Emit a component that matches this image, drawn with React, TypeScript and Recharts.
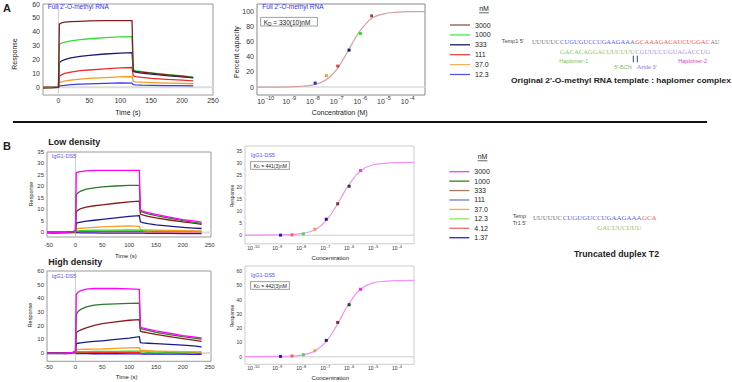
import {
  Cell,
  ComposedChart,
  Line,
  LineChart,
  ReferenceArea,
  ReferenceLine,
  Scatter,
  XAxis,
  YAxis,
} from "recharts";

const SANS = "'Liberation Sans', Arial, sans-serif";
const SERIF = "'Liberation Serif', 'Times New Roman', serif";

// ---------- panel A : sensorgram ----------
const timeA = [-25, -10, 0, 1.5, 5, 10, 20, 35, 50, 75, 100, 119, 121, 125, 135, 150, 175, 200, 218];
const respA3000 = [-0.6, -0.4, 0, 45.5, 46.5, 47, 47.3, 47.5, 47.8, 48, 48, 48.1, 12, 11.5, 11, 10.2, 9, 8, 7];
const respA1000 = [0, 0, 0, 31, 31.8, 32.5, 33.5, 34.3, 35, 35.8, 36.3, 36.5, 12.5, 12, 11.3, 10.5, 9.3, 8.2, 7.5];
const respA333 = [0, 0, 0, 18, 19, 20, 21.2, 22.3, 23, 24, 24.7, 25, 11.5, 11, 10.3, 9.5, 8.5, 7.5, 6.8];
const respA111 = [0, 0, 0, 8, 9, 10, 11, 12, 12.5, 13.3, 14, 14.3, 8.3, 7.8, 7.2, 6.5, 5.8, 5.2, 4.7];
const respA37 = [0, 0, 0, 3.5, 4, 4.5, 5.2, 6, 6.5, 7, 7.5, 7.8, 4.2, 4, 3.7, 3.4, 3.1, 2.8, 2.6];
const respA12 = [0, 0, 0, 1, 1.3, 1.5, 2, 2.3, 2.5, 2.8, 3.2, 3, 2, 1.8, 1.6, 1.5, 1.3, 1.2, 1.1];

const concLabelsA = ["3000", "1000", "333", "111", "37.0", "12.3"];
const curveColorsA = ["#7f1f1f", "#33dd33", "#1a1a70", "#ee2b2b", "#f59a1a", "#3a3aee"];
const legendColorsA = ["#8a5a44", "#44ee44", "#1a1a66", "#ee4444", "#f5b060", "#5555ee"];

// ---------- panel A : fit ----------
const fitConcA = [12.3e-9, 37e-9, 111e-9, 333e-9, 1000e-9, 3000e-9];
const fitValA = [5.3, 15, 27.8, 48.9, 70.9, 94.3];
const fitColorsA = ["#2a2ad0", "#f0a040", "#e04040", "#1a1a70", "#33dd33", "#9a4a4a"];
const curveConcA = [4.3e-11, 1e-10, 1e-9, 3e-9, 1e-8, 2e-8, 5e-8, 1e-7, 2e-7, 3.3e-7, 5e-7, 1e-6, 2e-6, 3e-6, 1e-5, 3e-5, 1e-4, 5.4e-4];
const curveValA = [0, 0, 0.3, 1, 3, 5.5, 13, 23, 38, 50, 60, 75, 86, 91, 97, 99, 100, 100];

// ---------- panel B : sensorgrams ----------
const timeB = [-53, -40, -20, -5, 0, 1.5, 5, 10, 20, 35, 50, 75, 100, 119, 121, 125, 135, 150, 175, 200, 220, 235];
const lowB3000 = [0, 0, 0, 0.3, 0.5, 26, 26.3, 26.5, 26.8, 27, 27, 27, 27, 27, 9.8, 9.3, 8.6, 7.8, 6.7, 5.6, 5, 4.5];
const lowB1000 = [0, 0, 0, 0.3, 0.5, 16.5, 17.3, 18, 18.8, 19.4, 19.8, 20.2, 20.5, 20.5, 9.3, 8.8, 8.1, 7.3, 6.2, 5.1, 4.4, 3.9];
const lowB333 = [0, 0, 0, 0.3, 0.5, 9, 9.7, 10.4, 11, 11.6, 12, 12.7, 13.3, 13.6, 8, 7.6, 7, 6.3, 5.4, 4.6, 4, 3.5];
const lowB111 = [0, 0, 0, 0.2, 0.4, 4, 4.3, 4.5, 4.9, 5.3, 5.7, 6.3, 7, 7.3, 4.6, 4.3, 3.8, 3.3, 2.7, 2.2, 1.9, 1.7];
const lowB37 = [0, 0, 0, 0.2, 0.3, 1.5, 1.7, 1.8, 2, 2.2, 2.4, 2.6, 2.8, 2.6, 1.3, 1.2, 1.1, 1, 0.9, 0.8, 0.7, 0.6];
const lowB12 = [0, 0, 0, 0.1, 0.2, 0.6, 0.7, 0.8, 0.9, 1, 1, 1, 1.1, 1, 0.8, 0.8, 0.7, 0.7, 0.6, 0.6, 0.6, 0.5];
const lowB4 = [0, 0.1, 0, 0, 0.1, 0.3, 0.3, 0.3, 0.3, 0.4, 0.3, 0.4, 0.4, 0.4, 0.3, 0.3, 0.2, 0.3, 0.2, 0.2, 0.3, 0.2];
const lowB1 = [-0.2, -0.3, -0.2, -0.1, 0, -0.1, -0.1, -0.2, -0.2, -0.2, -0.3, -0.3, -0.3, -0.3, -0.3, -0.3, -0.4, -0.4, -0.4, -0.5, -0.5, -0.5];

const highB3000 = [0, 0, 0, 0.5, 1, 43, 44.5, 45.7, 46.8, 47.2, 47.3, 47.2, 47, 46.5, 19, 18.5, 17.5, 16.2, 14.5, 12.8, 11.8, 11];
const highB1000 = [0, 0, 0, 0.5, 1, 28, 30.5, 32, 33.8, 35, 35.6, 36, 36.4, 36.5, 18, 17.5, 16.6, 15.2, 13.5, 12, 11, 10.3];
const highB333 = [0, 0, 0, 0.5, 1, 15, 16, 17, 18.5, 20.3, 21.5, 22.8, 24, 24.5, 16, 15.6, 14.8, 13.6, 12, 10.6, 9.5, 8.5];
const highB111 = [0, 0, 0, 0.3, 0.6, 7, 7.2, 7.5, 8, 8.5, 9, 10, 11, 12, 7.6, 7.4, 7.2, 6.9, 6.4, 5.8, 5.2, 4.5];
const highB37 = [0, 0, 0, 0.2, 0.4, 2.5, 2.6, 2.7, 2.8, 2.9, 3, 3.4, 3.8, 4, 2, 1.9, 1.7, 1.5, 1.2, 1, 0.9, 0.8];
const highB12 = [0, 0, 0, 0.1, 0.2, 1, 1, 1.1, 1.1, 1.2, 1.2, 1.3, 1.4, 1.5, 0.9, 0.9, 0.8, 0.8, 0.8, 0.7, 0.7, 0.7];
const highB4 = [0, 0.2, -0.3, 0, 0.2, 0.5, 0.4, 0.5, 0.6, 0.5, 0.4, 0.5, 0.6, 0.5, 0.2, -0.5, 0.3, -0.4, 0.5, -0.3, 0.4, -0.6];
const highB1 = [-0.3, -0.2, -0.3, -0.2, 0, -0.3, -0.3, -0.4, -0.4, -0.5, -0.5, -0.5, -0.6, -0.6, -0.6, -0.7, -0.7, -0.8, -0.8, -0.8, -0.9, -0.9];

const concLabelsB = ["3000", "1000", "333", "111", "37.0", "12.3", "4.12", "1.37"];
const curveColorsB = ["#ff00ff", "#2a7a2a", "#8b1a1a", "#1a1a90", "#ff9a1a", "#22dd22", "#ff2a2a", "#1a1aee"];
const legendColorsB = ["#ee44ee", "#3f7a2a", "#a47a62", "#6a82c0", "#f5a64a", "#8ae860", "#f06a6a", "#2020ee"];

// ---------- panel B : fits ----------
const fitConcB = [1.37e-9, 4.12e-9, 12.3e-9, 37e-9, 111e-9, 333e-9, 1000e-9, 3000e-9];
const fitColorsB = ["#1a1aee", "#f06060", "#44dd44", "#f5a040", "#1a1a90", "#8b2a2a", "#1a4a1a", "#ee33ee"];
const fitLowB = [0, 0.1, 0.5, 2.5, 6.6, 13, 20.3, 26.8];
const fitHighB = [0.2, 0.5, 1.4, 4.2, 11.4, 24, 36.4, 47.2];
const curveConcB = [4.5e-11, 1e-9, 5e-9, 1e-8, 3e-8, 5e-8, 1e-7, 2e-7, 4.4e-7, 7e-7, 1e-6, 2e-6, 3e-6, 1e-5, 3e-5, 1e-4, 5.1e-4];
const curveLowB = [0, 0.1, 0.3, 0.6, 1.8, 3, 5.6, 9.5, 15.1, 18.7, 21, 25, 26.6, 29.2, 29.8, 30.1, 30.2];
const curveHighB = [0, 0.2, 0.5, 1.1, 3.2, 5.4, 9.9, 16.8, 26.7, 33.2, 37.2, 44.3, 47.2, 51.7, 52.8, 53.3, 53.5];

const logTicks = [1e-10, 1e-9, 1e-8, 1e-7, 1e-6, 1e-5, 1e-4];

const buildRows = (times: number[], series: number[][]) =>
  times.map((t, i) => {
    const row: Record<string, number> = { t };
    series.forEach((s, k) => (row["s" + k] = s[i]));
    return row;
  });

const pairs = (xs: number[], ys: number[]) => xs.map((c, i) => ({ c, v: ys[i] }));

const ML = 40;
const MR = 14;
const MT = 2;
const MB = 20;

const numTick = (fs: number, dx: number, dy: number, anchor: "end" | "middle") => (p: any) => (
  <text
    x={p.x + dx}
    y={p.y + dy}
    textAnchor={anchor}
    dominantBaseline="central"
    fontSize={fs}
    fontFamily={SANS}
    fill="#333"
  >
    {p.payload.value}
  </text>
);

const logTick = (fs: number, dy: number) => (p: any) => {
  const e = Math.round(Math.log10(p.payload.value));
  return (
    <text x={p.x} y={p.y + dy} textAnchor="middle" dominantBaseline="central" fontSize={fs} fontFamily={SANS} fill="#333">
      <tspan>10</tspan>
      <tspan dx={1} dy={-fs * 0.4} fontSize={fs * 0.8}>
        {e}
      </tspan>
    </text>
  );
};

type Box = { x0: number; y0: number; x1: number; y1: number };

function Sensorgram(props: {
  box: Box;
  rows: Record<string, number>[];
  colors: string[];
  xDomain: [number, number];
  yDomain: [number, number];
  xTicks: number[];
  yTicks: number[];
  fs: number;
  xDy: number;
  frame: string;
}) {
  const { box, rows, colors, xDomain, yDomain, xTicks, yTicks, fs, xDy, frame } = props;
  const w = box.x1 - box.x0;
  const h = box.y1 - box.y0;
  return (
    <div style={{ position: "absolute", left: box.x0 - ML, top: box.y0 - MT }}>
      <LineChart width={w + ML + MR} height={h + MT + MB} data={rows} margin={{ top: MT, right: MR, bottom: 0, left: 0 }}>
        <XAxis
          type="number"
          dataKey="t"
          domain={xDomain}
          ticks={xTicks}
          allowDataOverflow
          interval={0}
          height={MB}
          axisLine={false}
          tickLine={false}
          tickSize={0}
          tickMargin={0}
          tick={numTick(fs, 0, xDy, "middle")}
        />
        <YAxis
          type="number"
          domain={yDomain}
          ticks={yTicks}
          allowDataOverflow
          interval={0}
          width={ML}
          axisLine={false}
          tickLine={false}
          tickSize={0}
          tickMargin={0}
          tick={numTick(fs, -3, 0, "end")}
        />
        <ReferenceLine y={0} stroke="#dddddd" strokeWidth={2} />
        <ReferenceLine x={0} stroke="#cccccc" strokeWidth={1} />
        {colors
          .map((c, k) => (
            <Line
              key={k}
              type="linear"
              dataKey={"s" + k}
              stroke={c}
              strokeWidth={1.3}
              dot={false}
              isAnimationActive={false}
            />
          ))
          .reverse()}
        <ReferenceArea
          x1={xDomain[0]}
          x2={xDomain[1]}
          y1={yDomain[0]}
          y2={yDomain[1]}
          fill="none"
          stroke={frame}
          strokeWidth={1}
          ifOverflow="visible"
        />
      </LineChart>
    </div>
  );
}

function FitChart(props: {
  box: Box;
  curve: { c: number; v: number }[];
  points: { c: number; v: number }[];
  pointColors: string[];
  curveColor: string;
  xDomain: [number, number];
  yDomain: [number, number];
  yTicks: number[];
  fs: number;
  xDy: number;
  frame: string;
}) {
  const { box, curve, points, pointColors, curveColor, xDomain, yDomain, yTicks, fs, xDy, frame } = props;
  const w = box.x1 - box.x0;
  const h = box.y1 - box.y0;
  return (
    <div style={{ position: "absolute", left: box.x0 - ML, top: box.y0 - MT }}>
      <ComposedChart width={w + ML + MR} height={h + MT + MB} margin={{ top: MT, right: MR, bottom: 0, left: 0 }}>
        <XAxis
          type="number"
          dataKey="c"
          scale="log"
          domain={xDomain}
          ticks={logTicks}
          allowDataOverflow
          interval={0}
          height={MB}
          axisLine={false}
          tickLine={false}
          tickSize={0}
          tickMargin={0}
          tick={logTick(fs, xDy)}
        />
        <YAxis
          type="number"
          domain={yDomain}
          ticks={yTicks}
          allowDataOverflow
          interval={0}
          width={ML}
          axisLine={false}
          tickLine={false}
          tickSize={0}
          tickMargin={0}
          tick={numTick(fs, -3, 0, "end")}
        />
        <ReferenceLine y={0} stroke="#dddddd" strokeWidth={1.5} />
        <Line
          data={curve}
          type="monotone"
          dataKey="v"
          stroke={curveColor}
          strokeWidth={1.2}
          dot={false}
          isAnimationActive={false}
        />
        <Scatter
          data={points}
          dataKey="v"
          isAnimationActive={false}
          shape={(p: any) => <rect x={p.cx - 1.5} y={p.cy - 1.5} width={3} height={3} fill={p.fill} />}
        >
          {points.map((_, i) => (
            <Cell key={i} fill={pointColors[i]} />
          ))}
        </Scatter>
        <ReferenceArea
          x1={xDomain[0]}
          x2={xDomain[1]}
          y1={yDomain[0]}
          y2={yDomain[1]}
          fill="none"
          stroke={frame}
          strokeWidth={1}
          ifOverflow="visible"
        />
      </ComposedChart>
    </div>
  );
}

const T = (p: {
  x: number;
  y: number;
  s: number;
  c?: string;
  b?: boolean;
  a?: "start" | "middle" | "end";
  r?: boolean;
  f?: string;
  len?: number;
  u?: boolean;
  children: any;
}) => (
  <text
    x={p.x}
    y={p.y}
    fontSize={p.s}
    fill={p.c || "#222"}
    fontWeight={p.b ? "bold" : "normal"}
    textAnchor={p.a || "start"}
    dominantBaseline="central"
    fontFamily={p.f || SANS}
    transform={p.r ? `rotate(-90 ${p.x} ${p.y})` : undefined}
    textLength={p.len}
    lengthAdjust={p.len ? "spacingAndGlyphs" : undefined}
    textDecoration={p.u ? "underline" : undefined}
  >
    {p.children}
  </text>
);

const Kd = ({ x0, y0, x1, y1, label, s }: { x0: number; y0: number; x1: number; y1: number; label: string; s: number }) => (
  <g>
    <rect x={x0} y={y0} width={x1 - x0} height={y1 - y0} fill="#fff" stroke="#888" strokeWidth={0.8} />
    <text x={x0 + 3} y={(y0 + y1) / 2} fontSize={s} fontFamily={SANS} fill="#222" dominantBaseline="central">
      <tspan>K</tspan>
      <tspan fontSize={s * 0.75} dy={s * 0.3}>
        D
      </tspan>
      <tspan dy={-s * 0.3}>{" = " + label}</tspan>
    </text>
  </g>
);

// one text per coloured run, each squeezed to its share of the strand width
const Seq = ({ x, y, cw, parts }: { x: number; y: number; cw: number; parts: [string, string, number][] }) => (
  <g>
    {parts.map(([txt, col, at], i) => (
      <T key={i} x={x + at * cw + 0.2} y={y} s={cw * 1.36} c={col} f={SERIF} len={txt.length * cw - 0.5}>
        {txt}
      </T>
    ))}
  </g>
);

const GRAY = "#777";
const SBLUE = "#5a64f0";
const SRED = "#f05a5a";
const SGREEN = "#8cc860";
const SPURPLE = "#b68ae8";

export default function App() {
  const rowsA = buildRows(timeA, [respA3000, respA1000, respA333, respA111, respA37, respA12]);
  const rowsLow = buildRows(timeB, [lowB3000, lowB1000, lowB333, lowB111, lowB37, lowB12, lowB4, lowB1]);
  const rowsHigh = buildRows(timeB, [highB3000, highB1000, highB333, highB111, highB37, highB12, highB4, highB1]);

  return (
    <div style={{ position: "absolute", left: 0, top: 0, width: 732, height: 382, background: "#fff", overflow: "hidden" }}>
      <Sensorgram
        box={{ x0: 43, y0: 4, x1: 213, y1: 95 }}
        rows={rowsA}
        colors={curveColorsA}
        xDomain={[-25, 250]}
        yDomain={[-5.5, 60]}
        xTicks={[0, 50, 100, 150, 200, 250]}
        yTicks={[0, 10, 20, 30, 40, 50, 60]}
        fs={7}
        xDy={5.7}
        frame="#999"
      />
      <FitChart
        box={{ x0: 257, y0: 4, x1: 425, y1: 95 }}
        curve={pairs(curveConcA, curveValA)}
        points={pairs(fitConcA, fitValA)}
        pointColors={fitColorsA}
        curveColor="#d4a0a0"
        xDomain={[4.3e-11, 5.4e-4]}
        yDomain={[-10.5, 110]}
        yTicks={[0, 20, 40, 60, 80, 100]}
        fs={7}
        xDy={5.7}
        frame="#888"
      />
      <Sensorgram
        box={{ x0: 46.7, y0: 152, x1: 210.7, y1: 237 }}
        rows={rowsLow}
        colors={curveColorsB}
        xDomain={[-53, 252.5]}
        yDomain={[-2, 35]}
        xTicks={[-50, 0, 50, 100, 150, 200, 250]}
        yTicks={[0, 5, 10, 15, 20, 25, 30, 35]}
        fs={6}
        xDy={8}
        frame="#999"
      />
      <Sensorgram
        box={{ x0: 46.7, y0: 270.7, x1: 210.7, y1: 361 }}
        rows={rowsHigh}
        colors={curveColorsB}
        xDomain={[-53, 252.5]}
        yDomain={[-6, 60]}
        xTicks={[-50, 0, 50, 100, 150, 200, 250]}
        yTicks={[0, 10, 20, 30, 40, 50, 60]}
        fs={6}
        xDy={5.7}
        frame="#999"
      />
      <FitChart
        box={{ x0: 245, y0: 146.2, x1: 414, y1: 244 }}
        curve={pairs(curveConcB, curveLowB)}
        points={pairs(fitConcB, fitLowB)}
        pointColors={fitColorsB}
        curveColor="#f590f5"
        xDomain={[4.5e-11, 5.1e-4]}
        yDomain={[-3.6, 37]}
        yTicks={[0, 5, 10, 15, 20, 25, 30, 35]}
        fs={5}
        xDy={4.3}
        frame="#cccccc"
      />
      <FitChart
        box={{ x0: 245, y0: 266, x1: 414, y1: 364.3 }}
        curve={pairs(curveConcB, curveHighB)}
        points={pairs(fitConcB, fitHighB)}
        pointColors={fitColorsB}
        curveColor="#f590f5"
        xDomain={[4.5e-11, 5.1e-4]}
        yDomain={[-5.3, 63.5]}
        yTicks={[0, 10, 20, 30, 40, 50, 60]}
        fs={5}
        xDy={4}
        frame="#cccccc"
      />

      <svg
        width={732}
        height={382}
        style={{ position: "absolute", left: 0, top: 0, pointerEvents: "none" }}
      >
        {/* panel A */}
        <T x={3} y={8} s={11} b>
          A
        </T>
        <T x={47.7} y={6.7} s={6.5} c="#3333ee">
          Full 2'-O-methyl RNA
        </T>
        <T x={14} y={54} s={7} r a="middle">
          Response
        </T>
        <T x={128} y={112.7} s={7} a="middle">
          Time (s)
        </T>
        <T x={262.3} y={6.7} s={6.5} c="#3333ee">
          Full 2'-O-methyl RNA
        </T>
        <Kd x0={260.7} y0={17.3} x1={317.3} y1={26} label="330(10)nM" s={6.5} />
        <T x={236} y={52} s={7} r a="middle">
          Percent capacity
        </T>
        <T x={339.7} y={112.7} s={7} a="middle">
          Concentration (M)
        </T>

        <T x={484} y={8} s={7} a="middle" u>
          nM
        </T>
        {concLabelsA.map((c, i) => (
          <g key={c}>
            <line x1={450} x2={470} y1={25 + i * 9.9} y2={25 + i * 9.9} stroke={legendColorsA[i]} strokeWidth={1.3} />
            <T x={475} y={25 + i * 9.9} s={7}>
              {c}
            </T>
          </g>
        ))}

        <T x={501.7} y={41} s={5.5} c="#444">
          Temp1 5'
        </T>
        <Seq
          x={531.7}
          y={41.5}
          cw={4.7}
          parts={[
            ["UUUUUC", GRAY, 0],
            ["CUGUGUCCUGAAGAAA", SBLUE, 6],
            ["GCAAAGACAUCUGGAC", SRED, 22],
            ["AU", GRAY, 38],
          ]}
        />
        <Seq
          x={531.7}
          y={51}
          cw={4.7}
          parts={[
            ["GACACAGGACUUCUUU", SGREEN, 6],
            ["CGUUUCUGUAGACCUG", SPURPLE, 22],
          ]}
        />
        <T x={559.3} y={60.5} s={5.5} c="#7cc050">
          Haplomer-1
        </T>
        <T x={678.3} y={60.5} s={5.5} c="#d040c0">
          Haplomer-2
        </T>
        <line x1={633.3} x2={633.3} y1={55.7} y2={62.3} stroke="#1c4f7a" strokeWidth={1} />
        <line x1={637.3} x2={637.3} y1={55.7} y2={62.3} stroke="#1c4f7a" strokeWidth={1} />
        <T x={631.7} y={66.7} s={5.5} c="#7cc050" a="end">
          5'-BCN
        </T>
        <T x={637.3} y={66.7} s={5.5} c="#a070e0">
          Azide 3'
        </T>
        <T x={511} y={80} s={8} b len={220}>
          Original 2'-O-methyl RNA template : haplomer complex
        </T>

        <line x1={13} x2={707} y1={122} y2={122} stroke="#111" strokeWidth={2} />

        {/* panel B */}
        <T x={3} y={146} s={11} b>
          B
        </T>
        <T x={48.3} y={142.3} s={9} b>
          Low density
        </T>
        <T x={51.7} y={156} s={5.5} c="#5555ff">
          IgG1-DS5
        </T>
        <T x={31} y={194} s={5.5} r a="middle">
          Response
        </T>
        <T x={125.8} y={256} s={6} a="middle">
          Time (s)
        </T>

        <T x={48.3} y={262.3} s={9} b>
          High density
        </T>
        <T x={51.7} y={276} s={5.5} c="#5555ff">
          IgG1-DS5
        </T>
        <T x={30} y={315} s={5.5} r a="middle">
          Response
        </T>
        <T x={126.7} y={376.7} s={6} a="middle">
          Time (s)
        </T>

        <T x={250.7} y={155} s={5.5} c="#5555ff">
          IgG1-DS5
        </T>
        <Kd x0={250.7} y0={161.7} x1={289.3} y1={169.3} label="441(3)nM" s={5} />
        <T x={232} y={196} s={5} r a="middle">
          Response
        </T>
        <T x={330.3} y={258.3} s={6} a="middle">
          Concentration
        </T>

        <T x={250.7} y={275} s={5.5} c="#5555ff">
          IgG1-DS5
        </T>
        <Kd x0={250.7} y0={281.7} x1={289.3} y1={289.3} label="442(3)nM" s={5} />
        <T x={232} y={316} s={5} r a="middle">
          Response
        </T>
        <T x={330.3} y={378.3} s={6} a="middle">
          Concentration
        </T>

        <T x={482.5} y={156} s={7} a="middle" u>
          nM
        </T>
        {concLabelsB.map((c, i) => (
          <g key={c}>
            <line x1={449.3} x2={469.3} y1={171.7 + i * 9.43} y2={171.7 + i * 9.43} stroke={legendColorsB[i]} strokeWidth={1.3} />
            <T x={474.3} y={171.7 + i * 9.43} s={7}>
              {c}
            </T>
          </g>
        ))}

        <T x={512.7} y={216} s={5.5} c="#444">
          Temp
        </T>
        <T x={512.7} y={223.3} s={5.5} c="#444">
          Tr1 5'
        </T>
        <Seq
          x={532.7}
          y={217.3}
          cw={4.96}
          parts={[
            ["UUUUUC", GRAY, 0],
            ["CUGUGUCCUGAAGAAA", SBLUE, 6],
            ["GCA", SRED, 22],
          ]}
        />
        <Seq x={532.7} y={227.3} cw={4.96} parts={[["GACUUCUUU", SGREEN, 13]]} />
        <T x={574} y={254} s={8.5} b len={85}>
          Truncated duplex T2
        </T>
      </svg>
    </div>
  );
}
